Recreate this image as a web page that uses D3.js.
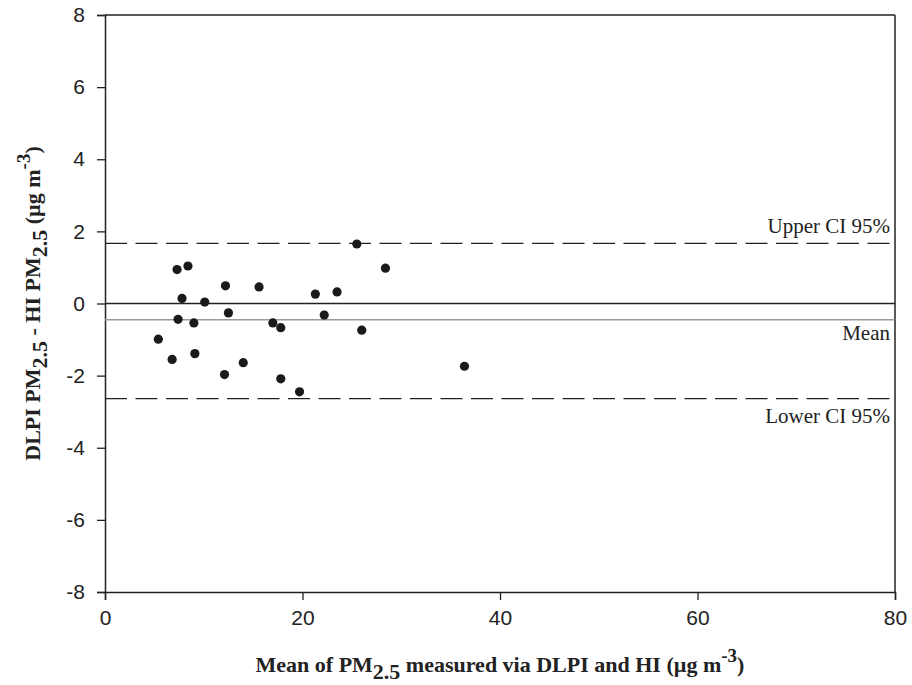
<!DOCTYPE html>
<html>
<head>
<meta charset="utf-8">
<script src="https://cdn.jsdelivr.net/npm/d3@7"></script>
<style>
  body { margin: 0; background: #fff; }
  svg { display: block; }
</style>
</head>
<body>
<div id="chart"></div>
<script>
// data: mean of the two methods vs their difference
const meanPM = [25.5, 7.3, 8.4, 28.4, 12.2, 15.6, 21.3, 23.5, 7.8, 10.1, 12.5, 22.2,
  7.4, 9.0, 17.0, 17.8, 26.0, 5.4, 6.8, 9.1, 14.0, 12.1, 17.8, 19.7, 36.4];
const diffPM = [1.65, 0.94, 1.04, 0.98, 0.49, 0.46, 0.26, 0.32, 0.14, 0.04, -0.26, -0.32,
  -0.44, -0.54, -0.54, -0.67, -0.74, -0.99, -1.55, -1.39, -1.64, -1.97, -2.09, -2.45, -1.74];
const xTicks = [0, 20, 40, 60, 80];
const yTicks = [-8, -6, -4, -2, 0, 2, 4, 6, 8];
const meanDiff = -0.45;
const upperCI = 1.67;
const lowerCI = -2.64;

const W = 912, H = 685;
const MARGIN = { LEFT: 105, RIGHT: 17, TOP: 15, BOTTOM: 93 };
const WIDTH = W - MARGIN.LEFT - MARGIN.RIGHT;
const HEIGHT = H - MARGIN.TOP - MARGIN.BOTTOM;

const svg = d3.select("#chart").append("svg")
  .attr("width", W)
  .attr("height", H);

const g = svg.append("g")
  .attr("transform", `translate(${MARGIN.LEFT}, ${MARGIN.TOP})`);

const x = d3.scaleLinear().domain([0, 80]).range([0, WIDTH]);
const y = d3.scaleLinear().domain([-8, 8]).range([HEIGHT, 0]);

const tickFont = "'Liberation Sans', Arial, sans-serif";
const serif = "'Liberation Serif', 'Times New Roman', serif";
const plainFmt = d => String(d); // hyphen minus like the original

// axes
const xAxis = g.append("g")
  .attr("transform", `translate(0, ${HEIGHT})`)
  .call(d3.axisBottom(x).tickValues(xTicks).tickFormat(plainFmt)
    .tickSizeOuter(0).tickSize(8).tickPadding(10));
const yAxis = g.append("g")
  .call(d3.axisLeft(y).tickValues(yTicks).tickFormat(plainFmt)
    .tickSizeOuter(0).tickSize(8).tickPadding(12));

[xAxis, yAxis].forEach(a => {
  a.select(".domain").attr("stroke", "#222").attr("stroke-width", 1.5);
  a.selectAll(".tick line").attr("stroke", "#222").attr("stroke-width", 1.3);
  a.selectAll(".tick text")
    .attr("fill", "#222")
    .style("font-family", tickFont)
    .style("font-size", "21px");
});

// top and right frame
g.append("line").attr("x1", 0).attr("x2", WIDTH).attr("y1", 0).attr("y2", 0)
  .attr("stroke", "#222").attr("stroke-width", 1.5);
g.append("line").attr("x1", WIDTH).attr("x2", WIDTH).attr("y1", 0).attr("y2", HEIGHT)
  .attr("stroke", "#222").attr("stroke-width", 1.5);

// reference lines
const refLines = [
  { v: 0, stroke: "#222", width: 1.5, dash: null },
  { v: meanDiff, stroke: "#9a9a9a", width: 1.3, dash: null },
  { v: upperCI, stroke: "#222", width: 1.3, dash: "22,8.5" },
  { v: lowerCI, stroke: "#222", width: 1.3, dash: "22,8.5" }
];
g.selectAll(".ref")
  .data(refLines)
  .enter()
  .append("line")
  .attr("class", "ref")
  .attr("x1", 0)
  .attr("x2", WIDTH)
  .attr("y1", d => y(d.v))
  .attr("y2", d => y(d.v))
  .attr("stroke", d => d.stroke)
  .attr("stroke-width", d => d.width)
  .attr("stroke-dasharray", d => d.dash);

// line labels
const lineLabels = [
  { text: "Upper CI 95%", v: upperCI, dy: -10 },
  { text: "Mean", v: meanDiff, dy: 20 },
  { text: "Lower CI 95%", v: lowerCI, dy: 24 }
];
g.selectAll(".lbl")
  .data(lineLabels)
  .enter()
  .append("text")
  .attr("class", "lbl")
  .attr("x", WIDTH - 5)
  .attr("y", d => y(d.v) + d.dy)
  .attr("text-anchor", "end")
  .attr("fill", "#222")
  .style("font-family", serif)
  .style("font-size", "21px")
  .text(d => d.text);

// dots
const pts = meanPM.map((m, i) => ({ m: m, d: diffPM[i] }));
g.selectAll("circle")
  .data(pts)
  .enter()
  .append("circle")
  .attr("cx", d => x(d.m))
  .attr("cy", d => y(d.d))
  .attr("r", 4.6)
  .attr("fill", "#1a1a1a");

// axis titles
const xTitle = svg.append("text")
  .attr("x", MARGIN.LEFT + WIDTH / 2)
  .attr("y", 672)
  .attr("text-anchor", "middle")
  .attr("fill", "#222")
  .style("font-family", serif)
  .style("font-size", "22px")
  .style("font-weight", "bold");
xTitle.append("tspan").text("Mean of PM");
xTitle.append("tspan").attr("dy", 7).text("2.5");
xTitle.append("tspan").attr("dy", -7).text(" measured via DLPI and HI (\u00b5g m");
xTitle.append("tspan").attr("dy", -10).style("font-size", "19px").text("-3");
xTitle.append("tspan").attr("dy", 10).text(")");

const yTitle = svg.append("text")
  .attr("transform", `translate(40, ${MARGIN.TOP + HEIGHT / 2}) rotate(-90)`)
  .attr("text-anchor", "middle")
  .attr("fill", "#222")
  .style("font-family", serif)
  .style("font-size", "22px")
  .style("font-weight", "bold");
yTitle.append("tspan").text("DLPI PM");
yTitle.append("tspan").attr("dy", 7).text("2.5");
yTitle.append("tspan").attr("dy", -7).text(" - HI PM");
yTitle.append("tspan").attr("dy", 7).text("2.5");
yTitle.append("tspan").attr("dy", -7).text(" (\u00b5g m");
yTitle.append("tspan").attr("dy", -10).style("font-size", "19px").text("-3");
yTitle.append("tspan").attr("dy", 10).text(")");
</script>
</body>
</html>
